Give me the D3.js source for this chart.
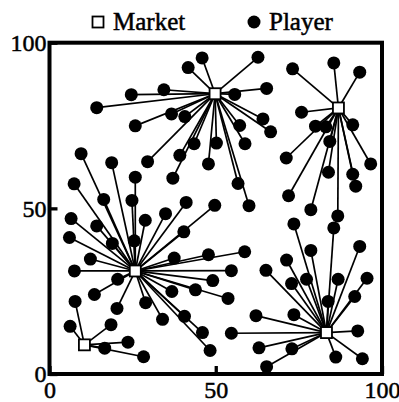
<!DOCTYPE html>
<html>
<head>
<meta charset="utf-8">
<script src="https://cdn.jsdelivr.net/npm/d3@7"></script>
<style>
  html, body { margin: 0; padding: 0; background: #fff; }
  svg { display: block; }
  svg text { font-family: "Liberation Serif", "Times New Roman", Times, "DejaVu Serif", serif; fill: #000; stroke: #000; stroke-width: 0.5px; }
</style>
</head>
<body>
<svg id="chart" width="399" height="402"></svg>
<script>
// Market locations
const marketX = [10.5, 25.8, 49.8, 86.9, 83.3];
const marketY = [8.8, 31.1, 84.6, 80.3, 12.5];

// Player locations and the market each one is linked to
const playerX = [
  45.9, 41.7, 34.4, 24.6, 14.2, 36.7, 40.7, 25.8, 43.5, 50.2, 39.2, 29.5, 47.8, 37.1,
  62.7, 65.3, 55.7, 64.2, 57.2, 66.5, 58.8, 56.7, 60.0,
  73.1, 85.5, 93.3, 75.8, 80.0, 83.1, 91.2, 84.3, 71.2, 96.6, 83.9, 91.2, 92.1, 71.9, 78.6, 86.7,
  73.5, 85.5, 93.3, 78.6, 71.3, 65.1, 95.5, 72.8, 77.3, 86.8, 91.8, 83.8, 62.1, 73.5, 54.7, 92.7,
  63.0, 72.9, 86.1, 94.1, 65.3,
  9.5, 18.7, 25.8, 7.4, 16.3, 24.8, 41.1, 49.7, 34.9, 6.5, 14.2, 28.8, 40.4, 6.0, 18.9, 25.5,
  12.3, 37.5, 47.8, 58.7, 7.5, 54.7, 49.1, 20.5, 43.9, 36.8, 13.5, 28.9, 20.3, 53.7, 34.0, 40.6,
  46.0, 48.3,
  7.7, 6.2, 18.5, 23.6, 16.6, 28.3
];
const playerY = [
  95.4, 92.5, 85.8, 84.3, 80.4, 78.5, 77.7, 74.9, 69.5, 69.7, 66.0, 64.1, 63.4, 59.1,
  95.6, 86.2, 84.4, 77.0, 75.0, 73.1, 69.5, 57.5, 50.8,
  92.1, 93.9, 91.1, 79.0, 74.8, 74.6, 75.2, 70.2, 65.2, 63.4, 60.9, 60.3, 56.7, 53.8, 49.6, 47.7,
  45.3, 44.1, 38.5, 37.3, 34.4, 31.3, 28.9, 27.3, 28.6, 28.6, 23.4, 21.9, 17.6, 17.9, 12.3, 13.0,
  7.9, 7.6, 5.1, 4.6, 2.2,
  66.5, 63.8, 59.4, 57.4, 52.7, 52.4, 51.8, 50.9, 48.4, 46.9, 44.7, 46.4, 42.9, 41.2, 39.4, 40.2,
  34.7, 35.0, 36.0, 36.9, 31.1, 31.2, 28.2, 28.6, 25.4, 24.9, 24.0, 21.5, 19.8, 22.8, 16.5, 17.4,
  12.5, 7.1,
  21.9, 14.4, 14.9, 9.6, 7.8, 5.2
];
const playerMarket = [
  2, 2, 2, 2, 2, 2, 2, 2, 2, 2, 2, 2, 2, 2,
  2, 2, 2, 2, 2, 2, 2, 2, 2,
  3, 3, 3, 3, 3, 3, 3, 3, 3, 3, 3, 3, 3, 3, 3, 3,
  4, 4, 4, 4, 4, 4, 4, 4, 4, 4, 4, 4, 4, 4, 4, 4,
  4, 4, 4, 4, 4,
  1, 1, 1, 1, 1, 1, 1, 1, 1, 1, 1, 1, 1, 1, 1, 1,
  1, 1, 1, 1, 1, 1, 1, 1, 1, 1, 1, 1, 1, 1, 1, 1,
  1, 1,
  0, 0, 0, 0, 0, 0
];

const tickValues = [0, 50, 100];
const legendLabels = ["Market", "Player"];

const svg = d3.select("#chart");
const x = d3.scaleLinear().domain([0, 100]).range([49.5, 382]);
const y = d3.scaleLinear().domain([0, 100]).range([374, 42.7]);

// Links from each market to its players
const players = playerX.map((px, i) => ({ x: px, y: playerY[i], m: playerMarket[i] }));
svg.append("g")
  .selectAll("line")
  .data(players)
  .join("line")
  .attr("x1", d => x(marketX[d.m]))
  .attr("y1", d => y(marketY[d.m]))
  .attr("x2", d => x(d.x))
  .attr("y2", d => y(d.y))
  .attr("stroke", "#000")
  .attr("stroke-width", 1.7);

// Players
svg.append("g")
  .selectAll("circle")
  .data(players)
  .join("circle")
  .attr("cx", d => x(d.x))
  .attr("cy", d => y(d.y))
  .attr("r", 6.5)
  .attr("fill", "#000");

// Markets
const sq = 11;
svg.append("g")
  .selectAll("rect")
  .data(marketX.map((mx, i) => ({ x: mx, y: marketY[i] })))
  .join("rect")
  .attr("x", d => x(d.x) - sq / 2)
  .attr("y", d => y(d.y) - sq / 2)
  .attr("width", sq)
  .attr("height", sq)
  .attr("fill", "#fff")
  .attr("stroke", "#000")
  .attr("stroke-width", 1.8);

// Frame
svg.append("rect")
  .attr("x", x(0))
  .attr("y", y(100))
  .attr("width", x(100) - x(0))
  .attr("height", y(0) - y(100))
  .attr("fill", "none")
  .attr("stroke", "#000")
  .attr("stroke-width", 4);

// Axes with inward ticks
const xAxis = svg.append("g")
  .attr("transform", `translate(0,${y(0)})`)
  .call(d3.axisBottom(x).tickValues(tickValues).tickSize(-8).tickPadding(7).tickFormat(d3.format("d")));
const yAxis = svg.append("g")
  .attr("transform", `translate(${x(0)},0)`)
  .call(d3.axisLeft(y).tickValues(tickValues).tickSize(-8).tickPadding(3).tickFormat(d3.format("d")));
[xAxis, yAxis].forEach(g => {
  g.select(".domain").remove();
  g.attr("font-family", null).attr("font-size", null);
  g.selectAll(".tick line").attr("stroke", "#000").attr("stroke-width", 3.3);
  g.selectAll(".tick text")
    .style("font-size", "24px")
    .attr("fill", "#000");
});

// Legend
const legend = svg.append("g");
const legendItems = legend.selectAll("g")
  .data(legendLabels)
  .join("g")
  .attr("transform", (d, i) => `translate(${i === 0 ? 98 : 254},22)`);
legendItems.filter((d, i) => i === 0)
  .append("rect")
  .attr("x", -5.5).attr("y", -5.5).attr("width", 11).attr("height", 11)
  .attr("fill", "#fff").attr("stroke", "#000").attr("stroke-width", 1.8);
legendItems.filter((d, i) => i === 1)
  .append("circle")
  .attr("r", 6.5).attr("fill", "#000");
legendItems.append("text")
  .attr("x", 15)
  .attr("y", 8)
  .style("font-size", "25px")
  .text(d => d);
</script>
</body>
</html>
